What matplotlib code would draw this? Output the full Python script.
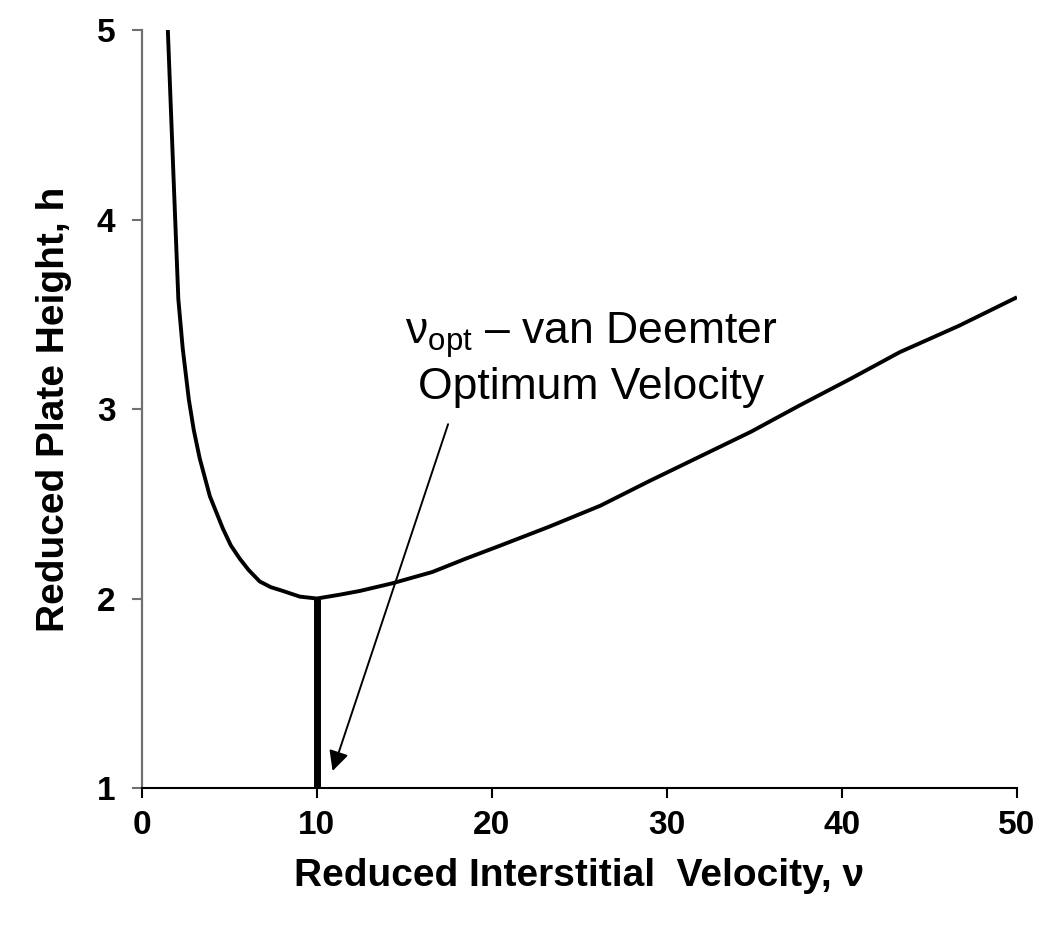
import matplotlib
matplotlib.use('Agg')
import matplotlib.pyplot as plt

plt.rcParams['font.family'] = ['Liberation Sans', 'DejaVu Sans']
plt.rcParams['mathtext.fontset'] = 'custom'
plt.rcParams['mathtext.rm'] = 'Liberation Sans'

# curve (reduced velocity, reduced plate height)
velocity = [1.49, 1.80, 2.09, 2.34, 2.69, 2.97, 3.31, 3.89, 4.63, 5.09, 5.6,
            6.11, 6.74, 7.37, 8.06, 9.03, 10.0, 11.3, 12.46, 14.3, 16.6,
            18.5, 20.5, 23.3, 26.2, 29.0, 31.9, 34.8, 37.6, 40.5, 43.3,
            46.7, 50.0]
plate_height = [5.0, 4.26, 3.58, 3.32, 3.05, 2.89, 2.74, 2.54, 2.37, 2.28, 2.21,
                2.15, 2.09, 2.06, 2.04, 2.01, 2.0, 2.02, 2.04, 2.08, 2.14,
                2.21, 2.28, 2.38, 2.49, 2.62, 2.75, 2.88, 3.02, 3.16, 3.30,
                3.44, 3.59]

v_opt = 10
h_min = 2.0
x_ticks = [0, 10, 20, 30, 40, 50]
y_ticks = [1, 2, 3, 4, 5]

fig = plt.figure(figsize=(10.5, 9.33), dpi=100)
ax = fig.add_axes([0.135, 0.1554, 0.8336, 0.8124])

ax.plot(velocity, plate_height, color='black', lw=2.8,
        solid_capstyle='butt', solid_joinstyle='round')
ax.plot([v_opt, v_opt], [1, h_min], color='black', lw=5, solid_capstyle='butt')

ax.annotate('', xy=(10.9, 1.09), xytext=(17.5, 2.92),
            arrowprops=dict(arrowstyle='-|>', color='black', lw=1.4,
                            mutation_scale=30, shrinkA=0, shrinkB=0))

ax.text(25.66, 3.342, r'ν$_{\mathrm{opt}}$ – van Deemter', fontsize=32,
        ha='center', va='baseline')
ax.text(25.66, 3.053, 'Optimum Velocity', fontsize=32,
        ha='center', va='baseline')

ax.set_xlim(0, 50)
ax.set_ylim(1, 5)
ax.set_xticks(x_ticks)
ax.set_yticks(y_ticks)
ax.tick_params(axis='both', labelsize=24, length=7, width=1.5, direction='out')
ax.tick_params(axis='x', pad=9)
ax.tick_params(axis='y', pad=12, color='#707070')
for lab in ax.get_xticklabels() + ax.get_yticklabels():
    lab.set_fontweight('bold')

for side in ['top', 'right']:
    ax.spines[side].set_visible(False)
ax.spines['left'].set_color('#707070')
ax.spines['left'].set_linewidth(1.6)
ax.spines['bottom'].set_color('black')
ax.spines['bottom'].set_linewidth(1.5)

ax.set_xlabel('Reduced Interstitial  Velocity, ν', fontsize=28, fontweight='bold',
              labelpad=12)
ax.set_ylabel('Reduced Plate Height, h', fontsize=28, fontweight='bold',
              labelpad=18)

fig.savefig('out.png', dpi=100)
